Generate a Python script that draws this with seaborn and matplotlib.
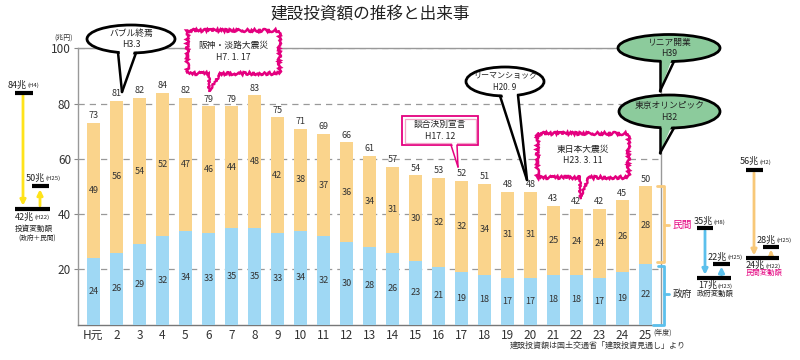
import matplotlib
matplotlib.use("Agg")
import matplotlib.pyplot as plt
import matplotlib.transforms as mtransforms
from matplotlib.patches import Ellipse, Rectangle, Polygon
import numpy as np
import pandas as pd
import seaborn as sns

# 建設投資額 (兆円)
years = ["H元"] + [str(i) for i in range(2, 26)]
gov = [24, 26, 29, 32, 34, 33, 35, 35, 33, 34, 32, 30, 28, 26, 23, 21, 19, 18, 17, 17, 18, 18, 17, 19, 22]
private = [49, 56, 54, 52, 47, 46, 44, 48, 42, 38, 37, 36, 34, 31, 30, 32, 32, 34, 31, 31, 25, 24, 24, 26, 28]
total = [73, 81, 82, 84, 82, 79, 79, 83, 75, 71, 69, 66, 61, 57, 54, 53, 52, 51, 48, 48, 43, 42, 42, 45, 50]

# 変動額 (max, min, latest)
inv_change = [84, 42, 50]
inv_years = ["(H4)", "(H22)", "(H25)"]
gov_change = [35, 17, 22]
gov_years = ["(H8)", "(H23)", "(H25)"]
priv_change = [56, 24, 28]
priv_years = ["(H2)", "(H22)", "(H25)"]

ORANGE = "#FAD48C"
BLUE = "#9FD8F4"
MAGENTA = "#E4007F"
GREEN = "#8CCB9C"
YELLOW = "#FFE31A"
ARROW_BLUE = "#5CC0EC"
ARROW_ORANGE = "#F8C878"
TXT = "#333333"

sns.set_theme(style="white")
plt.rcParams["font.family"] = ["Noto Sans CJK JP", "DejaVu Sans"]

df = pd.DataFrame({"year": years, "gov": gov, "private": private, "total": total})

fig = plt.figure(figsize=(8, 3.6), dpi=100)
ax = fig.add_axes([0.0975, 0.0986, 0.7288, 0.7667])

# stacked look: total in orange, government drawn over it in blue
sns.barplot(data=df, x="year", y="total", order=years, color=ORANGE, width=0.6,
            saturation=1, errorbar=None, linewidth=0, ax=ax, zorder=2)
sns.barplot(data=df, x="year", y="gov", order=years, color=BLUE, width=0.6,
            saturation=1, errorbar=None, linewidth=0, ax=ax, zorder=3)

for i, (g, p, t) in enumerate(zip(gov, private, total)):
    ax.text(i, t + 1.0, str(t), ha="center", va="bottom", fontsize=6.5, color=TXT)
    ax.text(i, g + (t - g) / 2, str(p), ha="center", va="center", fontsize=6.5, color=TXT)
    ax.text(i, g / 2, str(g), ha="center", va="center", fontsize=6.5, color=TXT)

ax.set_xlim(-0.67, 24.68)
ax.set_ylim(0, 100)
ax.set_yticks([20, 40, 60, 80, 100])
ax.set_xlabel("")
ax.set_ylabel("")
ax.set_axisbelow(True)
ax.yaxis.grid(True, linestyle=(0, (5, 4)), color="#999999", lw=0.9)
ax.xaxis.grid(False)
ax.tick_params(axis="y", length=3, width=0.8, color="#888888", labelsize=8.5,
               labelcolor=TXT, pad=2, left=True)
ax.tick_params(axis="x", length=0, labelsize=8.5, labelcolor=TXT, pad=3)
for s in ["top", "right", "left"]:
    ax.spines[s].set_color("#999999")
    ax.spines[s].set_linewidth(1)
ax.spines["bottom"].set_color("#777777")
ax.spines["bottom"].set_linewidth(1)

fig.text(0.4625, 0.958, "建設投資額の推移と出来事", ha="center", va="center", fontsize=12, color="#222222")
fig.text(64 / 800, 1 - 38 / 360, "(兆円)", ha="center", va="center", fontsize=5, color=TXT)
fig.text(653 / 800, 1 - 333 / 360, "(年度)", ha="left", va="center", fontsize=5, color=TXT)
fig.text(598 / 800, 1 - 345 / 360, "建設投資額は国土交通省「建設投資見通し」より",
         ha="center", va="center", fontsize=5.8, color=TXT)

# overlay in pixel units for callouts and side notes
ov = fig.add_axes([0, 0, 1, 1], zorder=5)
ov.set_xlim(0, 800)
ov.set_ylim(360, 0)
ov.axis("off")
trans = mtransforms.blended_transform_factory(ov.transData, ax.transData)


def bubble(cx, cy, w, h, fc, x1, x2, tip, lines, fs=6.3):
    ov.add_patch(Ellipse((cx, cy), w, h, fc=fc, ec="black", lw=2, zorder=3))
    a, b = w / 2, h / 2
    y1 = cy + b * np.sqrt(max(0, 1 - ((x1 - cx) / a) ** 2))
    y2 = cy + b * np.sqrt(max(0, 1 - ((x2 - cx) / a) ** 2))
    ov.add_patch(Polygon([(x1 + 1.5, y1 - 4), (x2 - 1.5, y2 - 4), tip], closed=True,
                         fc=fc, ec="none", zorder=4))
    for x, y in [(x1, y1), (x2, y2)]:
        ov.plot([x, tip[0]], [y, tip[1]], color="black", lw=1.8, zorder=5,
                solid_capstyle="round")
    ov.text(cx, cy, "\n".join(lines), ha="center", va="center", fontsize=fs,
            linespacing=1.35, color="#222222", zorder=6)


def jagged(x0, y0, x1, y1, tx1, tx2, tip, lines, fs=6.3):
    r = Rectangle((x0, y0), x1 - x0, y1 - y0, fc="white", ec=MAGENTA, lw=1.8, zorder=3)
    r.set_sketch_params(scale=1.5, length=3, randomness=4)
    ov.add_patch(r)
    ov.add_patch(Polygon([(tx1 + 1, y1 - 3), (tx2 - 1, y1 - 3), tip], closed=True,
                         fc="white", ec="none", zorder=4))
    for x in [tx1, tx2]:
        ln, = ov.plot([x, tip[0]], [y1, tip[1]], color=MAGENTA, lw=1.6, zorder=5)
        ln.set_sketch_params(scale=1.0, length=3, randomness=4)
    ov.text((x0 + x1) / 2, (y0 + y1) / 2, "\n".join(lines), ha="center", va="center",
            fontsize=fs, linespacing=1.35, color="#222222", zorder=6)


bubble(131, 39, 88, 28, "white", 118, 136, (122, 92), ["バブル終焉", "H3.3"])
jagged(187, 30, 279, 73, 209, 221, (209, 91), ["阪神・淡路大震災", "H7. 1. 17"])

# 談合決別宣言: double pink frame
ov.add_patch(Rectangle((402, 116), 76, 29, fc="white", ec=MAGENTA, lw=1.3, zorder=3))
ov.add_patch(Rectangle((404.5, 118.5), 71, 24, fc="none", ec="#F3A3C8", lw=0.9, zorder=3))
ov.add_patch(Polygon([(452, 143), (457, 143), (458, 167)], closed=True, fc="white", ec="none", zorder=4))
ov.plot([451, 458], [145, 167], color=MAGENTA, lw=1.1, zorder=5)
ov.plot([457, 458], [145, 167], color=MAGENTA, lw=1.1, zorder=5)
ov.text(440, 130.5, "談合決別宣言\nH17. 12", ha="center", va="center", fontsize=6.3,
        linespacing=1.35, color="#222222", zorder=6)

bubble(505, 81.5, 78, 29, "white", 500, 518, (527, 180), ["リーマンショック", "H20. 9"], fs=5.8)
jagged(537, 133, 628, 177, 580, 589, (580, 198), ["東日本大震災", "H23. 3. 11"])
bubble(669, 48, 102, 27, GREEN, 660, 674, (660, 91), ["リニア開業", "H39"])
bubble(669.5, 111.5, 101, 33, GREEN, 660, 674, (660, 153), ["東京オリンピック", "H32"])


def bar_mark(x0, x1, v):
    ov.plot([x0, x1], [v, v], transform=trans, color="black", lw=3, solid_capstyle="butt",
            clip_on=False, zorder=4)


def arrow(x, v0, v1, color):
    ov.annotate("", xy=(x, v1), xytext=(x, v0), xycoords=trans, textcoords=trans,
                arrowprops=dict(arrowstyle="-|>", color=color, lw=2, mutation_scale=8,
                                shrinkA=2, shrinkB=2), zorder=3)


def note(x, y, main, small, color="#222222"):
    t = ov.text(x, y, main, fontsize=6.5, ha="left", va="center", color=color, zorder=6)
    ov.annotate(small, xy=(1, 0.12), xycoords=t, fontsize=4.3, ha="left", va="bottom",
                color=color, zorder=6)


# 投資変動額
arrow(23, inv_change[0], inv_change[1], YELLOW)
arrow(40, inv_change[1], inv_change[2], YELLOW)
bar_mark(15, 33, inv_change[0])
bar_mark(15, 50, inv_change[1])
bar_mark(32, 49, inv_change[2])
note(8, 85, f"{inv_change[0]}兆", inv_years[0])
note(26, 178, f"{inv_change[2]}兆", inv_years[2])
note(15, 217, f"{inv_change[1]}兆", inv_years[1])
ov.text(15, 228.5, "投資変動額", fontsize=5.5, ha="left", va="center", color="#222222")
ov.text(18, 238, "(政府＋民間)", fontsize=4.8, ha="left", va="center", color="#222222")

# 政府変動額
arrow(705, gov_change[0], gov_change[1], ARROW_BLUE)
arrow(721.5, gov_change[1], gov_change[2], ARROW_BLUE)
bar_mark(697, 713, gov_change[0])
bar_mark(697, 731, gov_change[1])
bar_mark(713, 730, gov_change[2])
note(694, 221.5, f"{gov_change[0]}兆", gov_years[0])
note(708, 257, f"{gov_change[2]}兆", gov_years[2])
note(698, 285.5, f"{gov_change[1]}兆", gov_years[1])
ov.text(697, 293.5, "政府変動額", fontsize=5.3, ha="left", va="center", color="#222222")

# 民間変動額
arrow(754, priv_change[0], priv_change[1], ARROW_ORANGE)
arrow(771, priv_change[1], priv_change[2], ARROW_ORANGE)
bar_mark(746, 763, priv_change[0])
bar_mark(746, 779, priv_change[1])
bar_mark(763, 779, priv_change[2])
note(740, 161.5, f"{priv_change[0]}兆", priv_years[0])
note(757, 240, f"{priv_change[2]}兆", priv_years[2])
note(746, 265.5, f"{priv_change[1]}兆", priv_years[1])
ov.text(746, 273, "民間変動額", fontsize=5.3, ha="left", va="center", color=MAGENTA)

# brackets beside the last bar
g_last, t_last = gov[-1], total[-1]
ov.plot([657, 664, 664, 657], [t_last, t_last, g_last + 0.5, g_last + 0.5], transform=trans,
        color="#F9CB7E", lw=2, clip_on=False, zorder=4)
ov.plot([664, 669], [(t_last + g_last) / 2] * 2, transform=trans, color="#F9CB7E", lw=2,
        clip_on=False, zorder=4)
ov.plot([658, 664, 664, 653], [g_last - 0.8, g_last - 0.8, 0, 0], transform=trans,
        color=ARROW_BLUE, lw=2, clip_on=False, zorder=4)
ov.plot([664, 669], [g_last / 2] * 2, transform=trans, color=ARROW_BLUE, lw=2,
        clip_on=False, zorder=4)
ov.text(673, (t_last + g_last) / 2, "民間", transform=trans, fontsize=7, ha="left",
        va="center", color=MAGENTA)
ov.text(673, g_last / 2, "政府", transform=trans, fontsize=7, ha="left", va="center",
        color="#222222")

fig.savefig("out.png", dpi=100)
